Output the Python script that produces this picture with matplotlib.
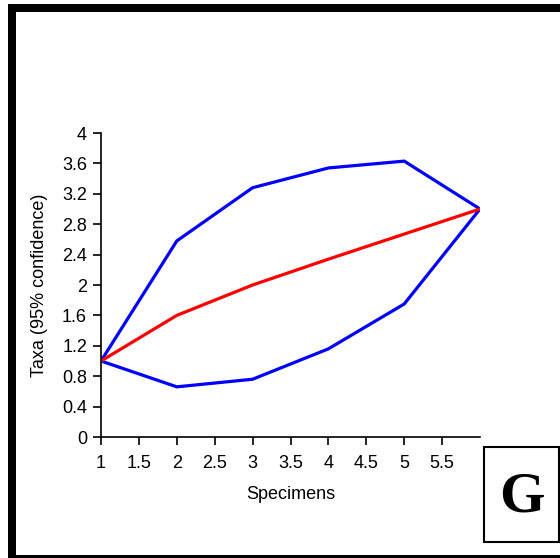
import matplotlib.pyplot as plt
from matplotlib.patches import Rectangle

plt.rcParams['font.family'] = ['Liberation Sans', 'DejaVu Sans']

specimens = [1, 2, 3, 4, 5, 6]
taxa_mean = [1.0, 1.6, 2.0, 2.34, 2.67, 3.0]
taxa_upper = [1.0, 2.58, 3.28, 3.54, 3.63, 3.0]
taxa_lower = [1.0, 0.66, 0.76, 1.16, 1.75, 3.0]
x_ticks = [1, 1.5, 2, 2.5, 3, 3.5, 4, 4.5, 5, 5.5]
y_ticks = [0, 0.4, 0.8, 1.2, 1.6, 2, 2.4, 2.8, 3.2, 3.6, 4]

W, H = 560, 558
fig = plt.figure(figsize=(W / 100, H / 100), dpi=100)
ax = fig.add_axes([101 / W, 1 - 437 / H, (480 - 101) / W, (437 - 133) / H])

ax.plot(specimens, taxa_upper, color='#0000ff', lw=2.3, solid_joinstyle='miter')
ax.plot(specimens, taxa_lower, color='#0000ff', lw=2.3, solid_joinstyle='miter')
ax.plot(specimens, taxa_mean, color='#ff0000', lw=2.3, solid_joinstyle='miter')

ax.set_xlim(1, 6)
ax.set_ylim(0, 4)
ax.set_xticks(x_ticks)
ax.set_xticklabels([f"{v:g}" for v in x_ticks])
ax.set_yticks(y_ticks)
ax.set_yticklabels([f"{v:g}" for v in y_ticks])
for s in ['top', 'right']:
    ax.spines[s].set_visible(False)
for s in ['left', 'bottom']:
    ax.spines[s].set_linewidth(1.2)
ax.tick_params(direction='out', length=6, width=1.2, labelsize=13)
ax.tick_params(axis='x', pad=7)
ax.tick_params(axis='y', pad=4)
ax.set_xlabel('Specimens', fontsize=13, labelpad=10)
ax.set_ylabel('Taxa (95% confidence)', fontsize=13, labelpad=10)

# heavy frame on the left, top and bottom edges
def px_rect(x0, y0, x1, y1, **kw):
    fig.patches.append(Rectangle((x0 / W, 1 - y1 / H), (x1 - x0) / W, (y1 - y0) / H,
                                 transform=fig.transFigure, **kw))

px_rect(8, 4, 16, 558, color='black', lw=0)
px_rect(8, 4, 560, 12, color='black', lw=0)
px_rect(8, 555, 560, 558, color='black', lw=0)

# panel letter box
px_rect(484, 447, 559, 542, facecolor='white', edgecolor='black', lw=1.5)
fig.text((484 + 559) / 2 / W, 1 - 497 / H, 'G', family='Liberation Serif',
         fontweight='bold', fontsize=42, ha='center', va='center')

fig.savefig('out.png', dpi=100)
